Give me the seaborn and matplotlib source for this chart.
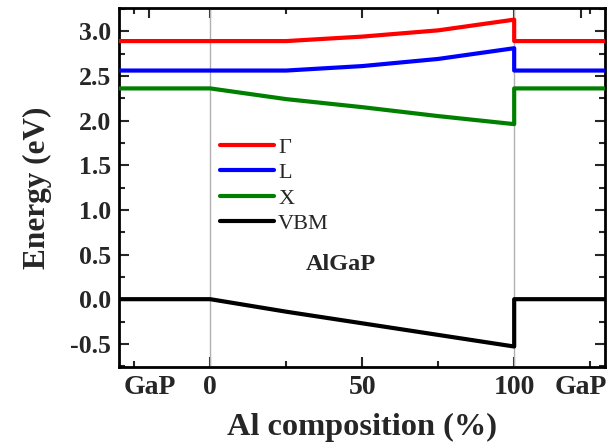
import numpy as np
import pandas as pd
import matplotlib
matplotlib.use("Agg")
import matplotlib.pyplot as plt
import seaborn as sns
from matplotlib.ticker import FixedLocator

sns.set_theme(style="ticks")
plt.rcParams["font.family"] = ["Liberation Serif", "DejaVu Serif"]

# Al composition (%), GaP barrier on both sides, AlGaP layer in between
COMPOSITION = [-30, 0, 25, 50, 75, 100, 100, 130]
GAMMA = [2.89, 2.89, 2.89, 2.94, 3.01, 3.13, 2.89, 2.89]
L_BAND = [2.56, 2.56, 2.56, 2.61, 2.69, 2.81, 2.56, 2.56]
X_BAND = [2.36, 2.36, 2.24, 2.15, 2.05, 1.96, 2.36, 2.36]
VBM = [0.0, 0.0, -0.14, -0.27, -0.40, -0.53, 0.0, 0.0]

BANDS = {"Γ": GAMMA, "L": L_BAND, "X": X_BAND, "VBM": VBM}
COLORS = {"Γ": "#ff0000", "L": "#0000ff", "X": "#008000", "VBM": "#000000"}

XTICKS = [-20, 0, 50, 100, 122]
XTICK_LABELS = ["GaP", "0", "50", "100", "GaP"]


def build_frame() -> pd.DataFrame:
    rows = []
    for name, vals in BANDS.items():
        for x, e in zip(COMPOSITION, vals):
            rows.append({"band": name, "x": x, "E": e})
    return pd.DataFrame(rows)


def main():
    df = build_frame()
    fig = plt.figure(figsize=(6.08, 4.46), dpi=100)
    ax = fig.add_axes([0.1957, 0.177, 0.8, 0.805])

    ax.axvline(0, color="#b0b0b0", lw=1.0, zorder=1)
    ax.axvline(100, color="#b0b0b0", lw=1.0, zorder=1)

    sns.lineplot(data=df, x="x", y="E", hue="band", palette=COLORS,
                 estimator=None, sort=False, lw=3.0, ax=ax, zorder=3)

    ax.set_xlim(-30, 130)
    ax.set_ylim(-0.76, 3.26)

    ax.set_xticks(XTICKS, XTICK_LABELS)
    ax.xaxis.set_minor_locator(FixedLocator([-25, 25, 75, 125]))
    for i in (0, 4):
        t = ax.xaxis.get_major_ticks()[i]
        t.tick1line.set_visible(False)
        t.tick2line.set_visible(False)
    yt = np.arange(-0.5, 3.01, 0.5)
    ax.set_yticks(yt, [f"{v:.1f}" for v in yt])
    ax.yaxis.set_minor_locator(FixedLocator(np.arange(-0.75, 3.26, 0.25)))

    ax.tick_params(which="both", direction="in", top=True, right=True, width=1.5)
    ax.tick_params(which="major", length=7, pad=6)
    ax.tick_params(which="minor", length=4)
    ax.tick_params(axis="x", labelsize=20)
    ax.tick_params(axis="y", labelsize=18.5)
    for lab in ax.get_xticklabels() + ax.get_yticklabels():
        lab.set_fontweight("bold")
    for s in ax.spines.values():
        s.set_linewidth(2)
        s.set_color("black")

    ax.set_xlabel("Al composition (%)", fontsize=23.3, fontweight="bold", labelpad=9)
    ax.set_ylabel("Energy (eV)", fontsize=22.5, fontweight="bold", labelpad=13)

    ax.legend(loc="upper left", bbox_to_anchor=(0.19, 0.665), frameon=False,
              fontsize=16, handlelength=2.4, handletextpad=0.2, labelspacing=0.22,
              borderaxespad=0)
    ax.text(43, 0.39, "AlGaP", fontsize=17.5, fontweight="bold", ha="center", va="center")

    fig.savefig("out.png", dpi=100)
    plt.close(fig)


if __name__ == "__main__":
    main()
